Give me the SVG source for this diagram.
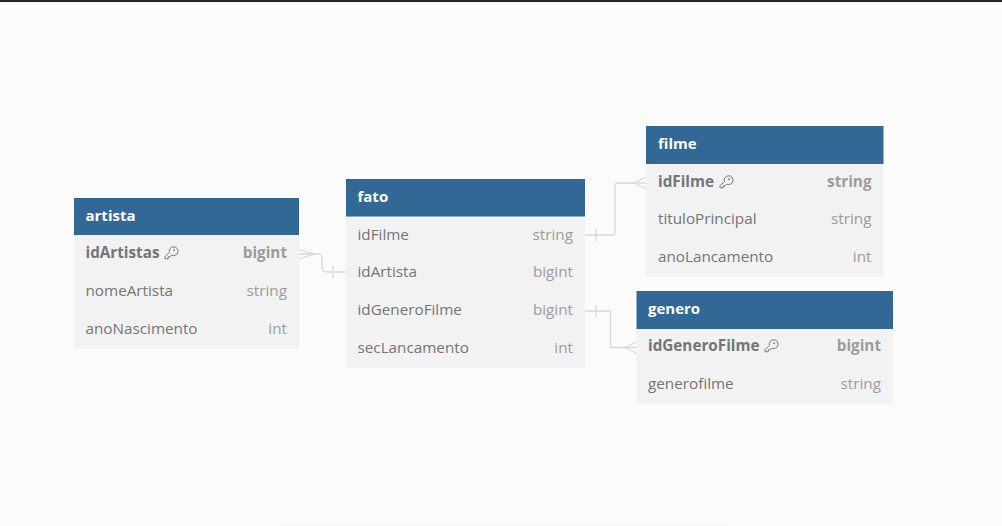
<svg xmlns="http://www.w3.org/2000/svg" width="1002" height="526" viewBox="0 0 1002 526">
<defs>
<style>
text{font-family:"Open Sans","Noto Sans",sans-serif;font-size:15.25px}
.h{fill:#316896}
.b{fill:#f2f2f2}
.t{fill:#fff;font-weight:700;font-size:15px}
.n{fill:#757575}
.y{fill:#9c9c9c;text-anchor:end}
.k{font-weight:700}
.c{fill:none;stroke:#d8d8d8;stroke-width:1.3}
.key{fill:none;stroke:#757575;stroke-width:1}
</style>
<g id="keyicon"><path class="key" d="M4.400-6.600A4.400 4.400 0 1 1 6.600-3.900L5-2.200H3.200V-.2H0V-2.200Z"/><circle class="key" cx="9" cy="-8.800" r=".6"/></g>
</defs>
<rect width="1002" height="526" fill="#fbfbfb"/>
<rect width="1002" height="2" fill="#24282b"/>
<rect y="2" width="1002" height="1" fill="#f4f4f4"/>
<rect x="280" y="524" width="450" height="2" fill="#f8f8f8"/>
<g id="connectors">
<path class="c" d="M299 254H317Q322 254 322 259V267Q322 272 327 272H346"/>
<path class="c" d="M299 249.500L314 254L299 259M333 266V278"/>
<path class="c" d="M585 235H612Q615 235 615 232V186Q615 183 618 183H646"/>
<path class="c" d="M596 229V241M646 177L634 183L646 189"/>
<path class="c" d="M585 311H610.500V347.500H637"/>
<path class="c" d="M596 305V317M637 341.500L625 347.500L637 353.500"/>
</g>
<g id="artista">
<rect class="b" x="74" y="235" width="225" height="114"/><rect class="h" x="74" y="198" width="225" height="37"/>
<text class="t" x="85.500" y="221">artista</text>
<text class="n k" x="85.500" y="258">idArtistas</text><use href="#keyicon" x="165" y="259"/><text class="y k" x="287" y="258">bigint</text>
<text class="n" x="85.500" y="296">nomeArtista</text><text class="y" x="287" y="296">string</text>
<text class="n" x="85.500" y="334">anoNascimento</text><text class="y" x="287" y="334">int</text>
</g>
<g id="fato">
<rect class="b" x="346" y="216" width="239" height="152"/><rect class="h" x="346" y="179" width="239" height="37.500"/>
<text class="t" x="357.500" y="202">fato</text>
<text class="n" x="357.500" y="240">idFilme</text><text class="y" x="573" y="240">string</text>
<text class="n" x="357.500" y="277">idArtista</text><text class="y" x="573" y="277">bigint</text>
<text class="n" x="357.500" y="315">idGeneroFilme</text><text class="y" x="573" y="315">bigint</text>
<text class="n" x="357.500" y="353">secLancamento</text><text class="y" x="573" y="353">int</text>
</g>
<g id="filme">
<rect class="b" x="646" y="164" width="237.500" height="113"/><rect class="h" x="646" y="126" width="237.500" height="38"/>
<text class="t" x="658" y="149">filme</text>
<text class="n k" x="658" y="187">idFilme</text><use href="#keyicon" x="720" y="188"/><text class="y k" x="871.500" y="187">string</text>
<text class="n" x="658" y="224">tituloPrincipal</text><text class="y" x="871.500" y="224">string</text>
<text class="n" x="658" y="262">anoLancamento</text><text class="y" x="871.500" y="262">int</text>
</g>
<g id="genero">
<rect class="b" x="636.500" y="329" width="256.500" height="75"/><rect class="h" x="636.500" y="291" width="256.500" height="38"/>
<text class="t" x="648" y="314">genero</text>
<text class="n k" x="648" y="351">idGeneroFilme</text><use href="#keyicon" x="765" y="352"/><text class="y k" x="881" y="351">bigint</text>
<text class="n" x="648" y="389">generofilme</text><text class="y" x="881" y="389">string</text>
</g>
</svg>
